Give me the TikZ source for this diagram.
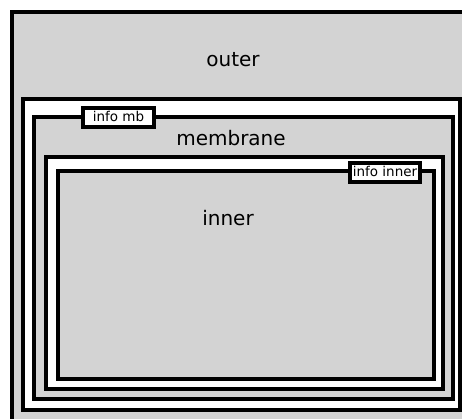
\documentclass[tikz,border=0pt]{standalone}
\usepackage{fontspec}
\setmainfont{DejaVu Sans}
\definecolor{compgray}{RGB}{211,211,211}
\tikzset{
  wall/.style={draw=black, line width=4pt},
  gapwall/.style={wall, fill=white},
  compwall/.style={wall, fill=compgray},
  complabel/.style={font=\fontsize{20}{24}\selectfont, anchor=base, inner sep=0pt},
  infobox/.style={wall, fill=white, inner sep=0pt, minimum height=19pt,
    text height=10pt, text depth=3pt, font=\fontsize{13.5}{16}\selectfont},
}
\begin{document}
\begin{tikzpicture}[x=1pt,y=-1pt]
  \useasboundingbox (0,0) rectangle (462,418);
  \clip (0,0) rectangle (462,418);

  % outer compartment
  \draw[compwall] (12,12) rectangle (480,440);

  % membrane
  \draw[gapwall]  (22.5,99) rectangle (460,410);
  \draw[compwall] (34,117) rectangle (452.5,399);

  % inner compartment
  \draw[gapwall]  (46,156.5) rectangle (443,388.5);
  \draw[compwall] (58,171) rectangle (433.5,379);

  \begin{scope}[every node/.style={complabel}]
    \node (outer)    at (233,66)  {outer};
    \node (membrane) at (231,145) {membrane};
    \node (inner)    at (228,225) {inner};
  \end{scope}

  \node[infobox, minimum width=71pt] (infomb)    at (118.5,117.5) {info mb};
  \node[infobox, minimum width=70pt] (infoinner) at (385,172.5)   {info inner};

\end{tikzpicture}
\end{document}
